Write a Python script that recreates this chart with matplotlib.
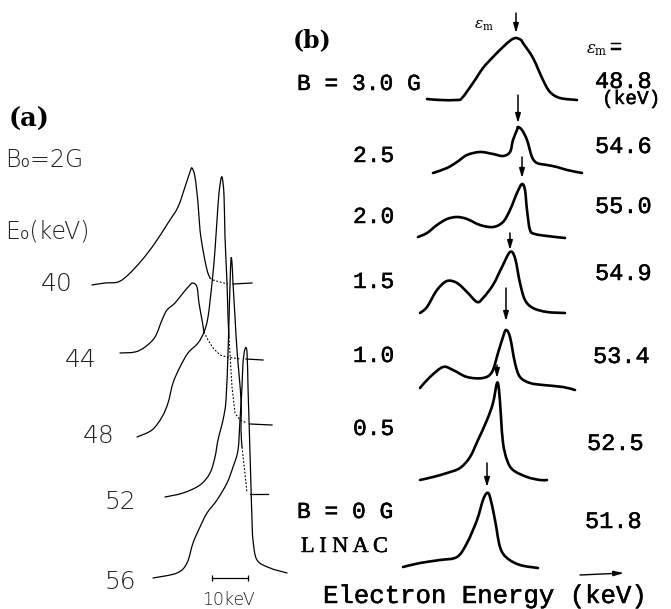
import matplotlib
matplotlib.use("Agg")
import matplotlib.pyplot as plt
from matplotlib.path import Path
from matplotlib.patches import PathPatch
import matplotlib.patheffects as pe

plt.rcParams['mathtext.fontset'] = 'dejavuserif'

# ---------------- data: panel (a) ----------------
a_E0 = ["40", "44", "48", "52", "56"]
a_x_40 = [92, 105, 118, 128, 142, 155, 168, 178, 185, 190, 192, 195, 198, 200, 203, 207, 210, 213, 220, 228, 233, 252]
a_h_40 = [-1, 1, 2, 9, 24, 41, 61, 77, 97, 112, 116, 107, 81, 54, 34, 14, 6, 4, 2, 0, 0, 1]
a_x_44 = [120, 135, 145, 155, 162, 167, 175, 183, 190, 193, 197, 199, 202, 204, 208, 213, 220, 227, 240, 246, 263]
a_h_44 = [6, 7, 12, 22, 39, 49, 56, 66, 74, 76, 72, 56, 39, 27, 19, 11, 4, 2, 0, 0, -1]
a_x_48 = [137, 152, 162, 168, 173, 180, 188, 198, 204, 208, 212, 215, 218, 220, 222, 224, 225, 227, 228, 229, 232, 235, 240, 247, 250, 272]
a_h_48 = [-13, -6, 7, 21, 41, 57, 71, 81, 92, 107, 141, 174, 219, 239, 247, 229, 187, 141, 107, 87, 37, 11, 4, 1, 0, -1]
a_x_52 = [165, 183, 200, 210, 215, 218, 223, 226, 228, 229, 230, 231, 232, 233, 235, 237, 241, 241, 242, 244, 247, 250, 268]
a_h_52 = [-3, 1, 9, 21, 37, 54, 74, 94, 141, 174, 209, 235, 231, 211, 177, 144, 94, 64, 47, 29, 1, 0, 0]
a_x_56 = [153, 177, 187, 193, 200, 207, 217, 227, 233, 238, 240, 242, 243, 245, 247, 248, 249, 250, 251, 252, 253, 257, 270, 287]
a_h_56 = [-5, 0, 10, 30, 46, 60, 73, 90, 106, 123, 153, 186, 210, 224, 221, 186, 153, 120, 86, 53, 33, 13, 5, 0]
# index where the dashed (interpolated) part starts, and where the zero-level tick starts
a_dash_start = [16, 13, 19, 18, None]
a_tick_start = [20, 19, 24, 21, None]

# ---------------- data: panel (b) ----------------
b_B = ["B = 3.0 G", "2.5", "2.0", "1.5", "1.0", "0.5", "B = 0 G"]
b_eps = ["48.8", "54.6", "55.0", "54.9", "53.4", "52.5", "51.8"]
b_x_30 = [427, 440, 457, 462, 473, 483, 493, 503, 511, 516, 521, 523, 533, 543, 550, 560, 577]
b_i_30 = [1, 0, 0, 2, 17, 32, 43, 53, 60, 62, 60, 57, 42, 20, 8, 2, 0]
b_x_25 = [433, 447, 457, 467, 480, 493, 503, 510, 513, 517, 518, 522, 527, 532, 537, 547, 557, 567, 582]
b_i_25 = [0, 5, 11, 18, 21, 19, 17, 21, 33, 43, 46, 43, 33, 16, 10, 8, 6, 3, 0]
b_x_20 = [418, 427, 437, 447, 457, 467, 480, 493, 503, 510, 517, 522, 525, 527, 530, 535, 547, 565]
b_i_20 = [1, 5, 13, 19, 21, 19, 13, 11, 16, 28, 45, 54, 48, 28, 8, 4, 2, 0]
b_x_15 = [420, 427, 437, 447, 457, 467, 477, 483, 493, 502, 510, 515, 520, 525, 533, 547, 565]
b_i_15 = [0, 6, 23, 32, 30, 21, 11, 15, 28, 46, 61, 55, 30, 13, 5, 1, 0]
b_x_10 = [420, 430, 443, 453, 467, 483, 492, 498, 503, 506, 510, 515, 520, 530, 543, 563, 575]
b_i_10 = [2, 13, 23, 20, 13, 12, 18, 37, 53, 60, 53, 27, 13, 7, 5, 3, 0]
b_x_05 = [420, 433, 447, 460, 470, 478, 487, 493, 497, 499, 501, 503, 507, 513, 527, 540, 547]
b_i_05 = [0, 3, 7, 12, 23, 40, 60, 77, 97, 90, 63, 37, 20, 10, 3, 0, 0]
b_x_00 = [403, 420, 440, 457, 467, 477, 483, 487, 490, 495, 500, 507, 520, 538]
b_i_00 = [1, 5, 8, 11, 25, 48, 68, 75, 71, 48, 21, 10, 3, 0]

# ---------------- layout ----------------
W, H = 671, 609
fig = plt.figure(figsize=(W / 100, H / 100), dpi=100)
ax = fig.add_axes([0, 0, 1, 1])
ax.set_xlim(0, W)
ax.set_ylim(H, 0)
ax.axis("off")


def smooth(xs, ys, lw, **kw):
    """Draw a smooth (Catmull-Rom style Bezier) line through the points."""
    pts = list(zip(xs, ys))
    verts = [pts[0]]
    codes = [Path.MOVETO]
    n = len(pts)
    for i in range(n - 1):
        p0 = pts[i - 1] if i > 0 else pts[i]
        p1 = pts[i]
        p2 = pts[i + 1]
        p3 = pts[i + 2] if i + 2 < n else pts[i + 1]
        c1 = (p1[0] + (p2[0] - p0[0]) / 6.0, p1[1] + (p2[1] - p0[1]) / 6.0)
        c2 = (p2[0] - (p3[0] - p1[0]) / 6.0, p2[1] - (p3[1] - p1[1]) / 6.0)
        verts += [c1, c2, p2]
        codes += [Path.CURVE4] * 3
    ax.add_patch(PathPatch(Path(verts, codes), facecolor="none", edgecolor="black",
                           lw=lw, joinstyle="round", capstyle="round", **kw))


LIGHT = dict(family=["DejaVu Sans"], fontweight="light", color="#222222")
THICK = [pe.withStroke(linewidth=0.35, foreground="black")]
MONO = dict(family=["Liberation Mono"], color="black", path_effects=THICK)

# panel (a)
a_curves = [(a_x_40, a_h_40), (a_x_44, a_h_44), (a_x_48, a_h_48), (a_x_52, a_h_52), (a_x_56, a_h_56)]
a_base = [284, 359, 424, 494, 573]
a_label_xy = [(41, 291), (65, 367), (83, 443), (105, 509), (105, 589)]
lw_a = 0.9
for (xs, hs), base, ds, ts, lab, (lx, ly) in zip(a_curves, a_base, a_dash_start, a_tick_start, a_E0, a_label_xy):
    ys = [base - h for h in hs]
    if ds is None:
        smooth(xs, ys, lw_a)
    else:
        smooth(xs[:ds + 1], ys[:ds + 1], lw_a)
        ax.plot(xs[ds:ts], ys[ds:ts], color="black", lw=0.8, ls=(0, (1.6, 1.6)))
        ax.plot(xs[ts:], ys[ts:], color="black", lw=lw_a)
    ax.text(lx, ly, lab, fontsize=18, ha="left", va="baseline", **LIGHT)

ax.text(9, 127, "(a)", fontsize=18.5, fontweight="bold", family="DejaVu Serif", va="baseline")
ax.text(5, 167, "B₀=2G", fontsize=17, va="baseline", **LIGHT)
ax.text(5, 238, "E₀(keV)", fontsize=17, va="baseline", **LIGHT)

# scale bar 10 keV
ax.plot([212, 248], [578, 578], color="black", lw=0.9, marker="|", ms=5, mew=0.9)
ax.text(228, 605, "10keV", fontsize=12.5, ha="center", va="baseline", **LIGHT)

# panel (b)
b_curves = [(b_x_30, b_i_30), (b_x_25, b_i_25), (b_x_20, b_i_20), (b_x_15, b_i_15),
            (b_x_10, b_i_10), (b_x_05, b_i_05), (b_x_00, b_i_00)]
b_base = [100, 173, 238, 313, 390, 480, 568]
b_arrow_top = [13, 95, 157, 233, 288, 365, 463]
b_arrow_gap = [5, 4, 6, 2, 9, 5, 6]
b_label_xy = [(297, 90), (353, 162), (353, 223), (353, 288), (353, 362), (353, 435), (297, 518)]
b_eps_xy = [(595, 88), (595, 153), (595, 213), (595, 280), (593, 363), (587, 450), (585, 528)]
for (xs, ii), base, atop, agap, lab, (lx, ly), eps, (ex, ey) in zip(
        b_curves, b_base, b_arrow_top, b_arrow_gap, b_B, b_label_xy, b_eps, b_eps_xy):
    ys = [base - v for v in ii]
    smooth(xs, ys, 1.9)
    k = max(range(len(ii)), key=lambda j: ii[j])
    ax.annotate("", xy=(xs[k], ys[k] - agap), xytext=(xs[k], atop),
                arrowprops=dict(arrowstyle="-|>,head_length=0.55,head_width=0.16",
                                color="black", lw=1.1, shrinkA=0, shrinkB=0))
    ax.text(lx, ly, lab, fontsize=16.5, ha="left", va="baseline", **MONO)
    ax.text(ex, ey, eps, fontsize=17, ha="left", va="baseline", **MONO)

ax.text(301, 552, "L I N A C", fontsize=16, ha="left", va="baseline",
        family=["Liberation Serif"], color="black", path_effects=THICK)
ax.text(293, 47, "(b)", fontsize=17, fontweight="bold", family="DejaVu Serif", va="baseline")
ax.text(474, 29, r"$\varepsilon_{\rm m}$", fontsize=11, va="baseline")
ax.text(586, 53, r"$\varepsilon_{\rm m}$", fontsize=12, va="baseline")
ax.text(610, 53, "=", fontsize=15, va="baseline", **MONO)
ax.text(602, 104, "(keV)", fontsize=14, ha="left", va="baseline", **MONO)

ax.text(323, 603, "Electron Energy (keV)", fontsize=18.5, va="baseline", **MONO)
ax.annotate("", xy=(624, 573), xytext=(580, 575),
            arrowprops=dict(arrowstyle="-|>,head_length=0.6,head_width=0.15",
                            color="black", lw=1.0, shrinkA=0, shrinkB=0))

fig.savefig("out.png", dpi=100)
